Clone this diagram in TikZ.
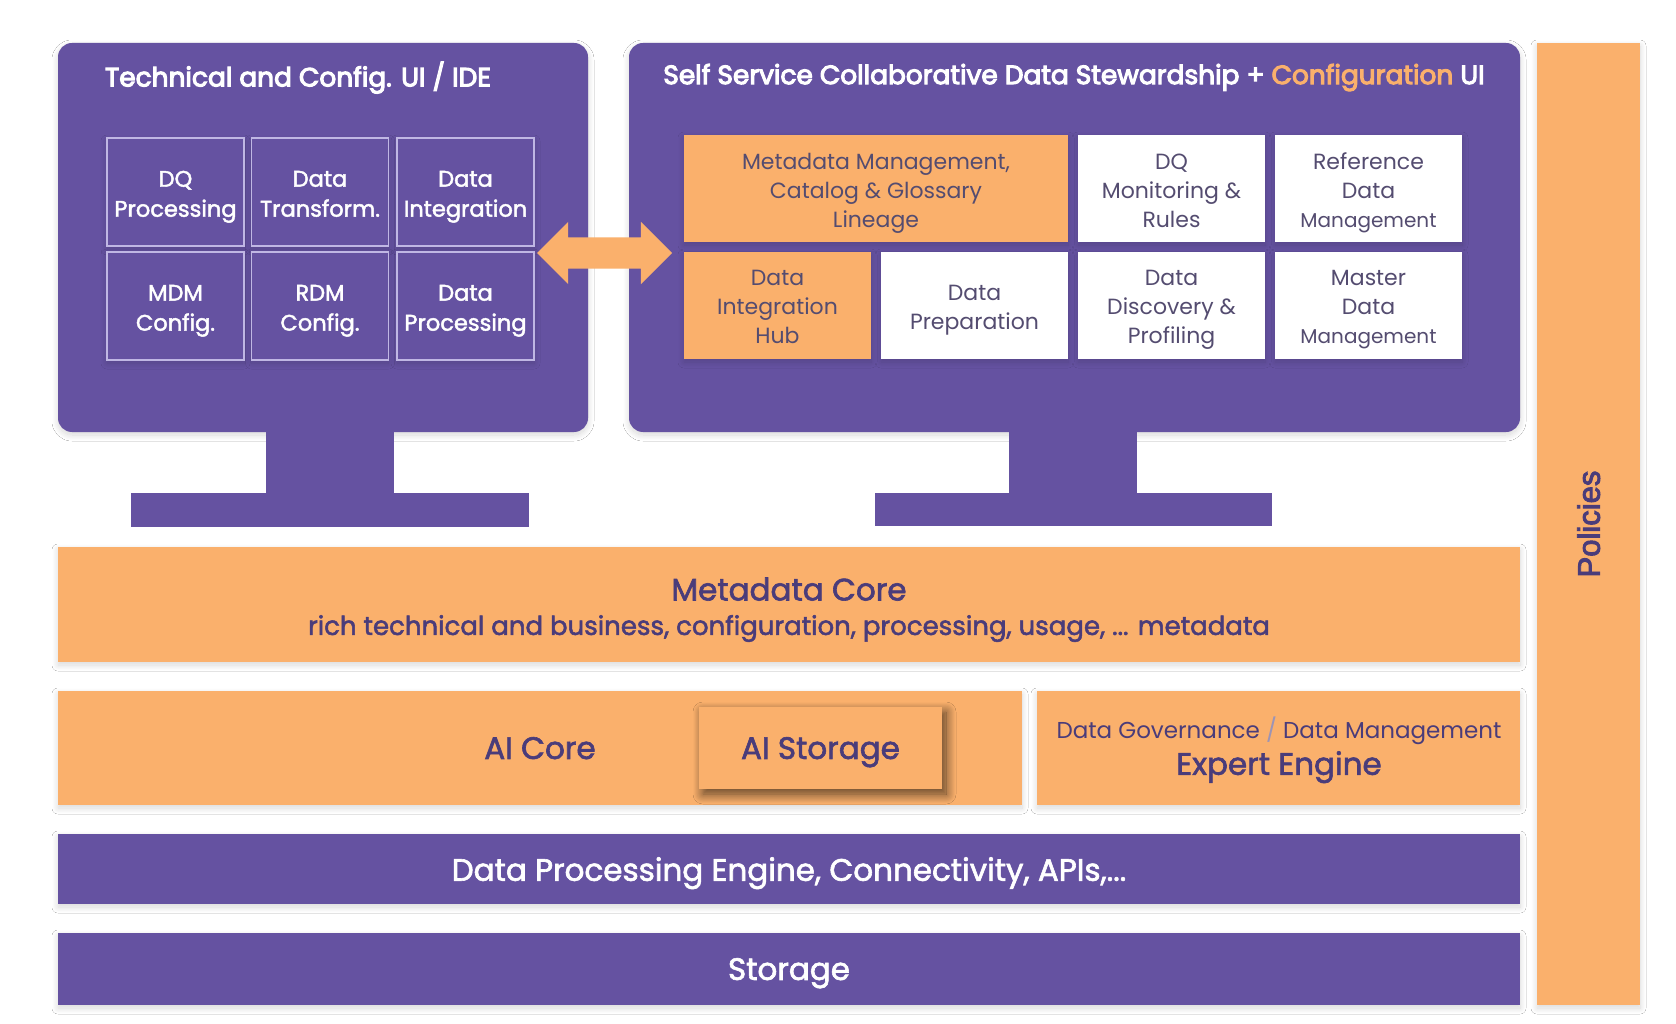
\documentclass[tikz,border=0pt]{standalone}
\usepackage{fontspec}
\setmainfont{Poppins}
\newfontfamily\medfont{Poppins}[FakeBold=2]
\newfontfamily\semifont{Poppins}[FakeBold=4]
\newfontfamily\policyfont{Liberation Sans}[FakeBold=3]
\usepackage{xcolor}
\usepackage{tikz}
\usetikzlibrary{positioning,shapes.arrows,shadows.blur}
\definecolor{dmPurple}{RGB}{101,82,161}
\definecolor{dmOrange}{RGB}{250,176,108}
\definecolor{dmText}{RGB}{74,60,122}
\definecolor{dmGrey}{RGB}{84,76,112}
\definecolor{dmLine}{RGB}{192,183,228}

\begin{document}
\begin{tikzpicture}[x=1pt, y=-1pt, every node/.style={align=center, inner sep=0pt, outer sep=0pt}, node distance=8pt and 8pt]
\tikzset{
  softshadow/.style={blur shadow={shadow xshift=0pt, shadow yshift=-3pt, shadow blur radius=6pt, shadow blur steps=16, shadow opacity=16}},
  monitor/.style={fill=dmPurple, rounded corners=14pt, softshadow, anchor=north west, minimum height=389pt},
  stand/.style={fill=dmPurple},
  uititle/.style={text=white, font=\semifont\fontsize{26.4}{32}\selectfont, text depth=0pt},
  cellL/.style={draw=dmLine, line width=1.4pt, fill=dmPurple, minimum width=137pt, minimum height=108pt, softshadow},
  cellLtext/.style={text=white, font=\medfont\fontsize{22.5}{30}\selectfont, text depth=0pt, yshift=-1.8pt},
  cellR/.style={fill=white, minimum width=187pt, minimum height=107pt, softshadow},
  cellRo/.style={cellR, fill=dmOrange},
  cellRtext/.style={text=dmGrey, font=\fontsize{22}{29}\selectfont, text depth=0pt, yshift=-1.8pt},
  band/.style={fill=dmOrange, text=dmText, anchor=north west, softshadow},
  bandp/.style={band, fill=dmPurple, text=white},
  bigtext/.style={font=\medfont\fontsize{31}{36}\selectfont, text depth=0pt}
}
\path[use as bounding box, fill=white] (0,0) rectangle (1676,1024);

\node[monitor, minimum width=530pt] (monL) at (58,43) {};
\node[monitor, minimum width=891pt] (monR) at (629,43) {};
\node[stand, minimum width=128pt, minimum height=61pt, below=0pt of monL.south, xshift=7pt] (neckL) {};
\node[stand, minimum width=398pt, minimum height=34pt, below=0pt of neckL] (baseL) {};
\node[stand, minimum width=128pt, minimum height=61pt, below=0pt of monR.south, xshift=-1.5pt] (neckR) {};
\node[stand, minimum width=397pt, minimum height=33pt, below=0pt of neckR] (baseR) {};

\node[uititle, anchor=west] (titleL) at (105,74) {Technical and Config. UI / IDE};
\node[uititle] (titleR) at (1074,74) {Self Service Collaborative Data Stewardship + \textcolor{dmOrange}{Configuration} UI};

\node[cellL, anchor=north west, label={[cellLtext]center:{DQ\\Processing}}] (dqProc) at (107,138) {};
\node[cellL, right=7.5pt of dqProc, label={[cellLtext]center:{Data\\Transform.}}] (dtTrans) {};
\node[cellL, right=8.5pt of dtTrans, label={[cellLtext]center:{Data\\Integration}}] (diInt) {};
\node[cellL, below=6pt of dqProc, label={[cellLtext]center:{MDM\\Config.}}] (mdmCfg) {};
\node[cellL, below=6pt of dtTrans, label={[cellLtext]center:{RDM\\Config.}}] (rdmCfg) {};
\node[cellL, below=6pt of diInt, label={[cellLtext]center:{Data\\Processing}}] (dpProc) {};

\node[cellRo, anchor=north west, minimum width=384pt, label={[cellRtext]center:{Metadata Management,\\Catalog \& Glossary\\Lineage}}] (mmCat) at (684,135) {};
\node[cellR, right=10pt of mmCat, label={[cellRtext]center:{DQ\\Monitoring \&\\Rules}}] (dqMon) {};
\node[cellR, right=10pt of dqMon, label={[cellRtext]center:{Reference\\Data\\{\fontsize{20}{29}\selectfont Management}}}] (refData) {};
\node[cellRo, below=10pt of mmCat.south west, anchor=north west, label={[cellRtext]center:{Data\\Integration\\Hub}}] (diHub) {};
\node[cellR, right=10pt of diHub, label={[cellRtext]center:{Data\\Preparation}}] (dPrep) {};
\node[cellR, right=10pt of dPrep, label={[cellRtext]center:{Data\\Discovery \&\\Profiling}}] (dDisc) {};
\node[cellR, right=10pt of dDisc, label={[cellRtext]center:{Master\\Data\\{\fontsize{20}{29}\selectfont Management}}}] (mdMgmt) {};

\node[double arrow, fill=dmOrange, minimum height=135pt, inner ysep=15.5pt, double arrow head extend=15.5pt] (uiLink) at (604.5,253) {};

\node[band, minimum width=1462pt, minimum height=115pt] (mdCore) at (58,547) {};
\node[text=dmText, bigtext] (mdTitle) at (789,589) {Metadata Core};
\node[text=dmText, font=\medfont\fontsize{26}{30}\selectfont, text depth=0pt] (mdSub) at (789,625) {rich technical and business, configuration, processing, usage, ... metadata};

\node[band, minimum width=964pt, minimum height=114pt, bigtext] (aiCore) at (58,691) {AI Core};
\node[fill=dmOrange, text=dmText, bigtext, minimum width=243pt, minimum height=82pt, blur shadow={shadow xshift=4pt, shadow yshift=-5pt, shadow blur radius=10pt, shadow blur steps=16, shadow opacity=65}] (aiStore) at (820.5,748) {AI Storage};

\node[band, minimum width=483pt, minimum height=114pt] (expert) at (1037,691) {};
\node[text=dmText, font=\fontsize{23}{28}\selectfont, text depth=0pt] (govLine) at (1279,728) {Data Governance {\color{dmText!55}/} Data Management};
\node[text=dmText, bigtext] (expLine) at (1279,763) {Expert Engine};

\node[bandp, minimum width=1462pt, minimum height=70pt, bigtext] (dpEngine) at (58,834) {Data Processing Engine, Connectivity, APIs,...};
\node[bandp, minimum width=1462pt, minimum height=72pt, bigtext] (storage) at (58,933) {Storage};

\node[band, minimum width=103pt, minimum height=962pt] (policies) at (1537,43) {};
\node[rotate=90, text=dmText, font=\policyfont\fontsize{31}{36}\selectfont, text depth=0pt] (polText) at (policies.center) {Policies};
\end{tikzpicture}
\end{document}
